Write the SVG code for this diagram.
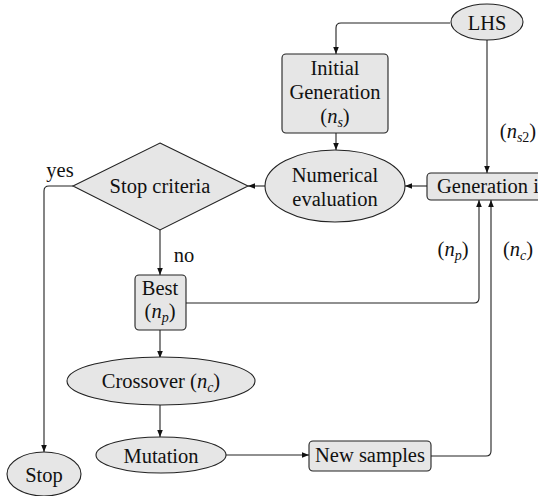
<svg xmlns="http://www.w3.org/2000/svg" width="538" height="496" viewBox="0 0 538 496">
<style>
.n{fill:#e6e6e6;stroke:#222;stroke-width:1.1}
.t{font-size:20.5px;fill:#111;text-anchor:middle}
.m{font-style:italic}
.c{fill:none;stroke:#222;stroke-width:1.1}
</style>
<defs>
<marker id="a" viewBox="0 0 10 10" refX="10" refY="5" markerWidth="7" markerHeight="7" markerUnits="userSpaceOnUse" orient="auto">
<path d="M0,1 L10,5 L0,9 Z" fill="#111"/>
</marker>
</defs>
<g font-family="Liberation Serif, Tinos, Times New Roman, DejaVu Serif, Noto Serif, serif">
<g id="connectors">
<path class="c" d="M450,23 H341 Q336,23 336,28 V54" marker-end="url(#a)"/>
<path class="c" d="M336,133 V150" marker-end="url(#a)"/>
<path class="c" d="M487,40 V173" marker-end="url(#a)"/>
<path class="c" d="M427,186 H405" marker-end="url(#a)"/>
<path class="c" d="M265,186 H248" marker-end="url(#a)"/>
<path class="c" d="M73,186 H49 Q44,186 44,191 V452" marker-end="url(#a)"/>
<path class="c" d="M160,230 V275" marker-end="url(#a)"/>
<path class="c" d="M186,303 H474 Q479,303 479,298 V200" marker-end="url(#a)"/>
<path class="c" d="M160,330 V358" marker-end="url(#a)"/>
<path class="c" d="M160,405 V437" marker-end="url(#a)"/>
<path class="c" d="M226,455 H309" marker-end="url(#a)"/>
<path class="c" d="M431,456 H486 Q491,456 491,451 V200" marker-end="url(#a)"/>
<text class="t" x="60" y="177">yes</text>
<text class="t" x="184" y="262">no</text>
<text class="t" x="518" y="138">(<tspan class="m">n</tspan><tspan font-size="14" class="m" dy="4">s</tspan><tspan font-size="14" dy="0">2</tspan><tspan dy="-4">)</tspan></text>
<text class="t" x="453" y="256">(<tspan class="m">n</tspan><tspan font-size="14" class="m" dy="4">p</tspan><tspan dy="-4">)</tspan></text>
<text class="t" x="518" y="256">(<tspan class="m">n</tspan><tspan font-size="14" class="m" dy="4">c</tspan><tspan dy="-4">)</tspan></text>
</g>
<g id="lhs">
<ellipse class="n" cx="487" cy="22" rx="36" ry="18"/>
<text class="t" x="487" y="30">LHS</text>
</g>
<g id="initial">
<rect class="n" x="282" y="54" width="106" height="79" rx="4"/>
<text class="t" x="335" y="75">Initial</text>
<text class="t" x="335" y="99">Generation</text>
<text class="t" x="335" y="123">(<tspan class="m">n</tspan><tspan font-size="14" class="m" dy="4">s</tspan><tspan dy="-4">)</tspan></text>
</g>
<g id="numerical">
<ellipse class="n" cx="335" cy="186" rx="70" ry="36"/>
<text class="t" x="335" y="182">Numerical</text>
<text class="t" x="335" y="206">evaluation</text>
</g>
<g id="generation-i">
<rect class="n" x="427" y="173" width="140" height="27" rx="4"/>
<text class="t" x="437" y="193" style="text-anchor:start">Generation i</text>
</g>
<g id="stop-criteria">
<path class="n" d="M160,143 L248,186 L160,230 L73,186 Z"/>
<text class="t" x="160" y="193">Stop criteria</text>
</g>
<g id="stop">
<ellipse class="n" cx="44" cy="474" rx="37" ry="22"/>
<text class="t" x="44" y="482">Stop</text>
</g>
<g id="best">
<rect class="n" x="135" y="275" width="51" height="55" rx="4"/>
<text class="t" x="160" y="295">Best</text>
<text class="t" x="160" y="318">(<tspan class="m">n</tspan><tspan font-size="14" class="m" dy="4">p</tspan><tspan dy="-4">)</tspan></text>
</g>
<g id="crossover">
<ellipse class="n" cx="161" cy="381" rx="94" ry="24"/>
<text class="t" x="161" y="388">Crossover (<tspan class="m">n</tspan><tspan font-size="14" class="m" dy="4">c</tspan><tspan dy="-4">)</tspan></text>
</g>
<g id="mutation">
<ellipse class="n" cx="161" cy="455" rx="65" ry="18"/>
<text class="t" x="161" y="463">Mutation</text>
</g>
<g id="new-samples">
<rect class="n" x="309" y="441" width="122" height="30" rx="4"/>
<text class="t" x="370" y="462">New samples</text>
</g>
</g>
</svg>
